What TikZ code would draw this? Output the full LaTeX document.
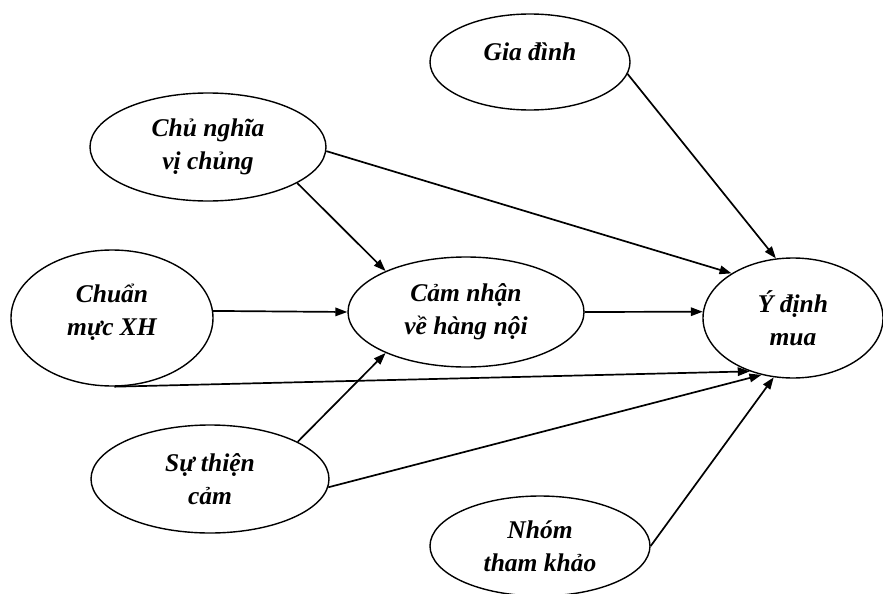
\documentclass[tikz,border=0pt]{standalone}
\usepackage{fontspec}
\setmainfont{Liberation Serif}
\usetikzlibrary{shapes.geometric,arrows.meta}
\begin{document}
\begin{tikzpicture}[x=1pt,y=-1pt,
  ell/.style={ellipse,draw,line width=1.4pt,inner sep=0pt,align=center,
    font=\fontsize{25.5}{33}\selectfont\bfseries\itshape},
  arr/.style={line width=1.7pt,-{Triangle[length=12pt,width=8.5pt]}}]
\fill[white] (0,0) rectangle (883,594);
\useasboundingbox (0,0) rectangle (883,594);

\node[ell,minimum width=200pt,minimum height=96pt] (gia) at (530,62) {\raisebox{10pt}[\height][\depth]{Gia đình}};
\node[ell,minimum width=236pt,minimum height=108pt] (chu) at (208,147) {Chủ nghĩa\\vị chủng};
\node[ell,minimum width=202pt,minimum height=136pt] (chuan) at (112,318) {\raisebox{6pt}[\height][\depth]{Chuẩn}\\\raisebox{6pt}[\height][\depth]{mực XH}};
\node[ell,minimum width=236pt,minimum height=110pt] (cam) at (466,312) {Cảm nhận\\về hàng nội};
\node[ell,minimum width=180pt,minimum height=120pt] (ydinh) at (793,318) {Ý định\\mua};
\node[ell,minimum width=238pt,minimum height=108pt] (su) at (210,479) {Sự thiện\\cảm};
\node[ell,minimum width=220pt,minimum height=100pt] (nhom) at (540,546) {Nhóm\\tham khảo};

\draw[arr] (gia.-7) -- (ydinh.106);
\draw[arr] (chu.-2) -- (ydinh.144.5);
\draw[arr] (chu.-22.4) -- (cam.153);
\draw[arr] (chuan.4) -- (cam.west);
\draw[arr] (chuan.-88) -- (ydinh.231.6);
\draw[arr] (cam.east) -- (ydinh.176);
\draw[arr] (su.23) -- (cam.207);
\draw[arr] (su.-4.3) -- (ydinh.241.4);
\draw[arr] (nhom.0) -- (ydinh.252.5);
\end{tikzpicture}
\end{document}
